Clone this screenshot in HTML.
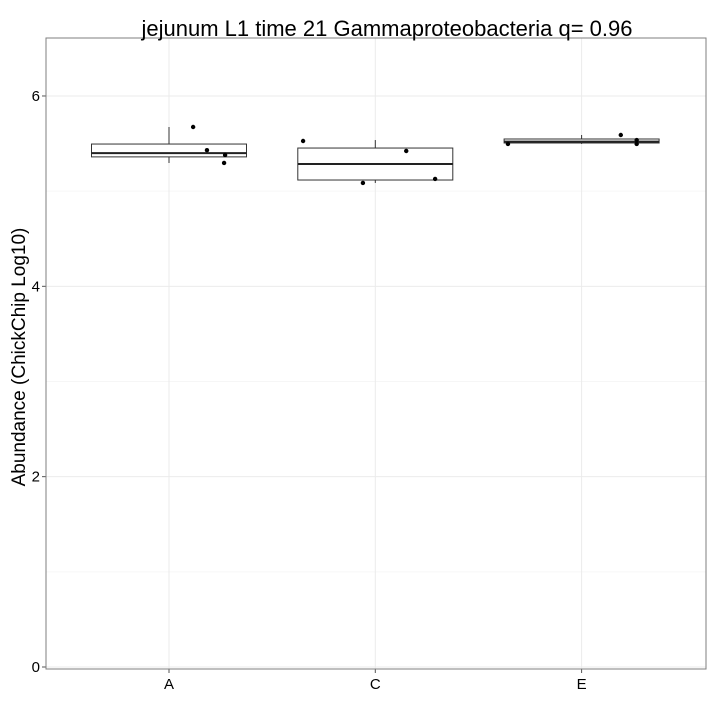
<!DOCTYPE html>
<html><head><meta charset="utf-8"><style>
body{margin:0;background:#fff;font-family:"Liberation Sans",sans-serif}
</style></head><body>
<svg id="c" width="720" height="720" xmlns="http://www.w3.org/2000/svg" font-family="Liberation Sans, sans-serif"></svg>
<script>
const categories=["A","C","E"];
const q1=[5.36,5.117,5.506];
const med=[5.40,5.285,5.52];
const q3=[5.495,5.453,5.548];
const wLow=[5.296,5.086,5.496];
const wHigh=[5.674,5.537,5.59];
const ptCat=[0,0,0,0,1,1,1,1,2,2,2,2];
const ptVal=[5.674,5.43,5.38,5.296,5.527,5.422,5.128,5.086,5.496,5.59,5.537,5.496];
const ptJit=[0.117,0.184,0.272,0.267,-0.35,0.15,0.29,-0.06,-0.357,0.19,0.267,0.267];
const yTicks=[0,2,4,6];
const yMinor=[1,3,5];
const NS="http://www.w3.org/2000/svg";
const svg=document.getElementById('c');
const L=46,R=706,T=38,B=669;
const y=v=>667-v*95.17;
const step=206.3;
const x=i=>169+i*step;
const bw=155;
function mk(t,a,p){const e=document.createElementNS(NS,t);for(const k in a)e.setAttribute(k,a[k]);(p||svg).appendChild(e);return e;}
const bg=mk('rect',{x:L,y:T,width:R-L,height:B-T,fill:'#fff'});


yMinor.forEach(v=>{const l=mk('line',{x1:L,x2:R,y1:y(v),y2:y(v),stroke:'#f6f6f6','stroke-width':1});

});
yTicks.forEach(v=>{const l=mk('line',{x1:L,x2:R,y1:y(v),y2:y(v),stroke:'#ebebeb','stroke-width':1});


const t=mk('text',{x:L-6,y:y(v)+5,'text-anchor':'end','font-size':15,fill:'#000'});t.textContent=v;


mk('line',{x1:L-4,x2:L,y1:y(v),y2:y(v),stroke:'#555'});});
categories.forEach((c,i)=>{const l=mk('line',{x1:x(i),x2:x(i),y1:T,y2:B,stroke:'#ebebeb'});


mk('line',{x1:x(i),x2:x(i),y1:B,y2:B+4,stroke:'#555'});
const t=mk('text',{x:x(i),y:B+20,'text-anchor':'middle','font-size':15,fill:'#000'});t.textContent=c;


const g=mk('g',{});


mk('line',{x1:x(i),x2:x(i),y1:y(wHigh[i]),y2:y(q3[i]),stroke:'#333'},g);
mk('line',{x1:x(i),x2:x(i),y1:y(q1[i]),y2:y(wLow[i]),stroke:'#333'},g);
mk('rect',{x:x(i)-bw/2,y:y(q3[i]),width:bw,height:y(q1[i])-y(q3[i]),fill:'#fff',stroke:'#333','stroke-width':1},g);
mk('line',{x1:x(i)-bw/2,x2:x(i)+bw/2,y1:y(med[i]),y2:y(med[i]),stroke:'#222','stroke-width':2},g);});
ptVal.forEach((v,k)=>{const p=mk('circle',{cx:x(ptCat[k])+ptJit[k]*step,cy:y(v),r:2.2,fill:'#000'});

});
const fr=mk('rect',{x:L,y:T,width:R-L,height:B-T,fill:'none',stroke:'#7f7f7f','stroke-width':1});


const tt=mk('text',{x:387,y:36,'text-anchor':'middle','font-size':22,fill:'#000'});tt.textContent='jejunum L1 time 21 Gammaproteobacteria q= 0.96';


const yt=mk('text',{x:0,y:0,'text-anchor':'middle','font-size':19,fill:'#000',transform:'translate(25,357) rotate(-90)'});yt.textContent='Abundance (ChickChip Log10)';


</script>
</body></html>
